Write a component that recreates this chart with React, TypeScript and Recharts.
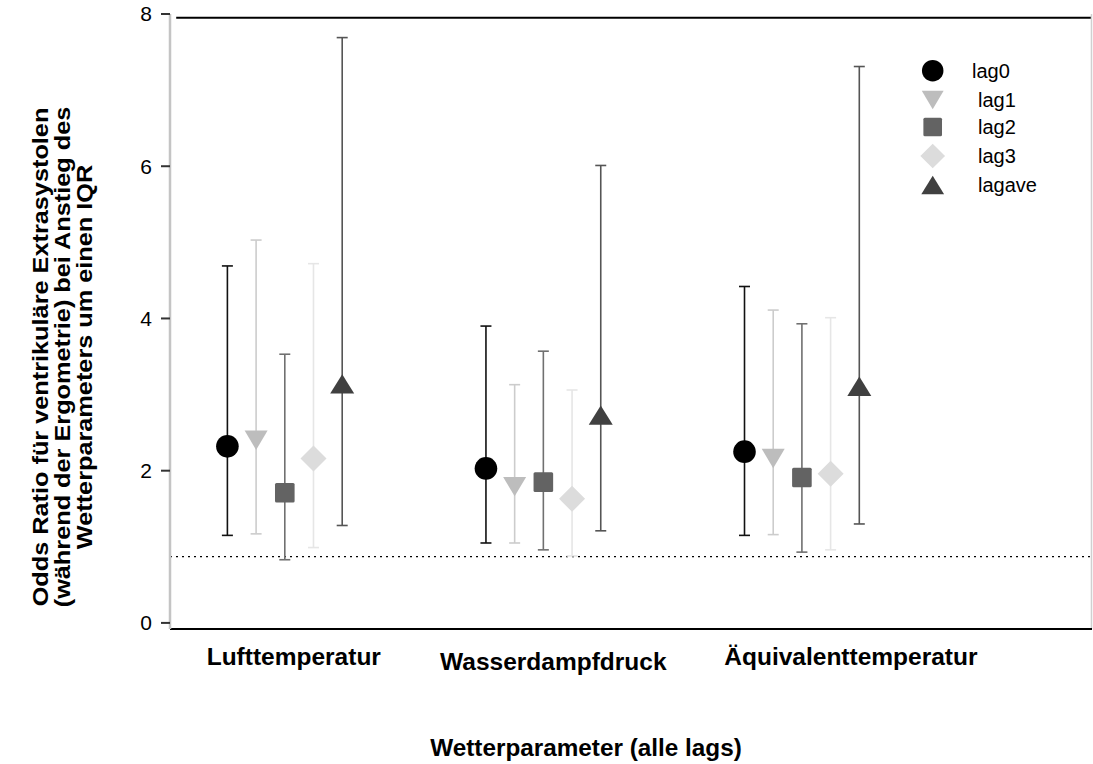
import React from 'react';
import { ScatterChart, Scatter, XAxis, YAxis, ErrorBar, ReferenceLine, Legend } from 'recharts';

// ---------- data ----------
const categories = ['Lufttemperatur', 'Wasserdampfdruck', 'Äquivalenttemperatur'];
const lagNames = ['lag0', 'lag1', 'lag2', 'lag3', 'lagave'];

const lag0Est = [2.32, 2.03, 2.25];
const lag0Low = [1.15, 1.05, 1.15];
const lag0High = [4.69, 3.9, 4.42];

const lag1Est = [2.4, 1.79, 2.16];
const lag1Low = [1.17, 1.05, 1.16];
const lag1High = [5.03, 3.13, 4.11];

const lag2Est = [1.71, 1.85, 1.91];
const lag2Low = [0.83, 0.96, 0.93];
const lag2High = [3.53, 3.57, 3.93];

const lag3Est = [2.16, 1.63, 1.96];
const lag3Low = [0.99, 0.88, 0.96];
const lag3High = [4.72, 3.06, 4.01];

const lagaveEst = [3.14, 2.73, 3.11];
const lagaveLow = [1.28, 1.21, 1.3];
const lagaveHigh = [7.69, 6.01, 7.31];

const yTicks = [0, 2, 4, 6, 8];
const refValue = 0.87;

const estimates = [lag0Est, lag1Est, lag2Est, lag3Est, lagaveEst];
const lows = [lag0Low, lag1Low, lag2Low, lag3Low, lagaveLow];
const highs = [lag0High, lag1High, lag2High, lag3High, lagaveHigh];

// ---------- styles ----------
const FONT = '"Liberation Sans", Arial, Helvetica, sans-serif';
const LAG_STEP = 0.111;
const markerColors = ['#000000', '#bdbdbd', '#636363', '#dcdcdc', '#404040'];
const barColors = ['#111111', '#cccccc', '#707070', '#e6e6e6', '#555555'];
const catLabelOffsets = [
  { dx: 9, dy: 36 },
  { dx: 10, dy: 41 },
  { dx: 49, dy: 36 },
];

const series = lagNames.map((name, li) => ({
  name,
  data: categories.map((c, ci) => ({
    x: ci + 1 + (li - 2) * LAG_STEP,
    y: estimates[li][ci],
    err: [estimates[li][ci] - lows[li][ci], highs[li][ci] - estimates[li][ci]],
  })),
}));

const drawSymbol = (kind: number, cx: number, cy: number, color: string, scale = 1) => {
  switch (kind) {
    case 0:
      return <circle cx={cx} cy={cy} r={11.3 * scale} fill={color} />;
    case 1: {
      const w = 11.5 * scale, h = 9.7 * scale;
      return <polygon points={`${cx - w},${cy - h} ${cx + w},${cy - h} ${cx},${cy + h}`} fill={color} />;
    }
    case 2: {
      const s = 9.8 * scale;
      return <rect x={cx - s} y={cy - s} width={2 * s} height={2 * s} rx={1.5} fill={color} />;
    }
    case 3: {
      const d = 13 * scale;
      return <polygon points={`${cx},${cy - d} ${cx + d},${cy} ${cx},${cy + d} ${cx - d},${cy}`} fill={color} />;
    }
    default: {
      const w = 12 * scale, h = 9.7 * scale;
      return <polygon points={`${cx - w},${cy + h} ${cx + w},${cy + h} ${cx},${cy - h}`} fill={color} />;
    }
  }
};

const makeShape = (kind: number) => (props: any) => {
  const { cx, cy } = props;
  if (cx == null || cy == null) return <g />;
  return drawSymbol(kind, cx, cy, markerColors[kind]);
};

const XTick = (props: any) => {
  const { x, y, payload } = props;
  const idx = Math.round(payload.value) - 1;
  const off = catLabelOffsets[idx] || { dx: 0, dy: 36 };
  return (
    <text x={x + off.dx} y={y + off.dy} textAnchor="middle" fontFamily={FONT} fontSize={24.5} fontWeight="bold" fill="#000">
      {categories[idx]}
    </text>
  );
};

const yLabelLines = [
  'Odds Ratio für ventrikuläre Extrasystolen',
  '(während der Ergometrie) bei Anstieg des',
  'Wetterparameters um einen IQR',
];

const YLabel = () => {
  const cy = 357;
  const xs = [48, 70, 92];
  return (
    <g>
      {yLabelLines.map((t, i) => (
        <text
          key={i}
          x={0}
          y={0}
          transform={`translate(${xs[i]}, ${cy}) rotate(-90) scale(1.15, 1)`}
          textAnchor="middle"
          fontFamily={FONT}
          fontSize={22}
          fontWeight="bold"
          fill="#000"
        >
          {t}
        </text>
      ))}
    </g>
  );
};

const XLabel = () => (
  <text x={586} y={756} textAnchor="middle" fontFamily={FONT} fontSize={24.3} fontWeight="bold" fill="#000">
    Wetterparameter (alle lags)
  </text>
);

const legendRowsY = [20.7, 50, 77, 106, 135];
const legendTextX = [62, 68, 68, 68, 68];

const LegendContent = () => (
  <svg width={180} height={160} style={{ display: 'block' }}>
    {lagNames.map((n, i) => (
      <g key={n}>
        {drawSymbol(i, 22.7, legendRowsY[i], markerColors[i], 0.95)}
        <text x={legendTextX[i]} y={legendRowsY[i] + 7} fontFamily={FONT} fontSize={20} fill="#000">
          {n}
        </text>
      </g>
    ))}
  </svg>
);

export default function App() {
  return (
    <div style={{ position: 'absolute', left: 0, top: 0, width: 1093, height: 764, background: '#fff' }}>
      <ScatterChart width={1093} height={764} margin={{ top: 14, right: 1, bottom: 0, left: 0 }}>
        <XAxis
          type="number"
          dataKey="x"
          domain={[0.556, 4.122]}
          ticks={[1, 2, 3]}
          allowDataOverflow
          tick={<XTick />}
          tickLine={false}
          tickSize={0}
          tickMargin={0}
          height={135}
          axisLine={{ stroke: '#000', strokeWidth: 2 }}
          label={<XLabel />}
        />
        <YAxis
          type="number"
          dataKey="y"
          domain={[-0.08, 8]}
          ticks={yTicks}
          allowDataOverflow
          width={170}
          tickSize={9}
          tickMargin={9}
          tickLine={{ stroke: '#333', strokeWidth: 2 }}
          axisLine={{ stroke: '#c4c4c4', strokeWidth: 2.5 }}
          tick={{ fontFamily: FONT, fontSize: 21, fill: '#000' }}
          label={<YLabel />}
        />
        <ReferenceLine
          segment={[{ x: 0.58, y: 7.95 }, { x: 4.122, y: 7.95 }]}
          stroke="#000"
          strokeWidth={2}
          ifOverflow="visible"
        />
        <ReferenceLine x={4.12} stroke="#d0d0d0" strokeWidth={1.5} ifOverflow="visible" />
        <ReferenceLine y={refValue} stroke="#000" strokeWidth={1.2} strokeDasharray="2 4" ifOverflow="visible" />
        {series.map((s, i) => (
          <Scatter key={s.name} name={s.name} data={s.data} shape={makeShape(i)} isAnimationActive={false}>
            <ErrorBar dataKey="err" direction="y" width={5.5} stroke={barColors[i]} strokeWidth={1.6} />
          </Scatter>
        ))}
        <Legend
          layout="vertical"
          align="center"
          verticalAlign="middle"
          content={<LegendContent />}
          wrapperStyle={{ position: 'absolute', left: 910, top: 50, width: 180, height: 160 }}
        />
      </ScatterChart>
    </div>
  );
}
